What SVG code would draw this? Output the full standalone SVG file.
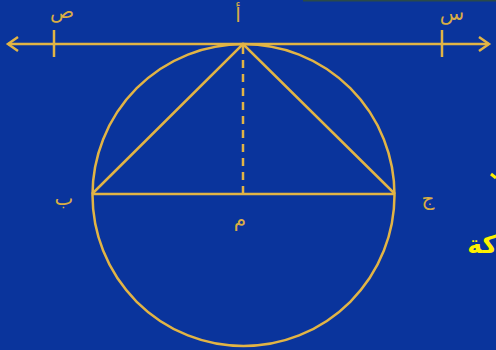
<svg xmlns="http://www.w3.org/2000/svg" width="496" height="350" viewBox="0 0 496 350">
<style>
.ln{stroke:#e2b445;stroke-width:2.5;fill:none}
.lbl{font-family:"DejaVu Sans",sans-serif;font-size:20px;fill:#d9ad45;text-anchor:middle}
.big{font-family:"DejaVu Sans",sans-serif;font-size:25px;font-weight:bold;fill:#fff200}
</style>
<rect width="496" height="350" fill="#0a349c"/>
<line x1="303" y1="0.5" x2="496" y2="0.5" stroke="#2a4a4a" stroke-width="2"/>
<g id="connectors">
<line class="ln" x1="8" y1="44" x2="489" y2="44"/>
<polyline class="ln" points="18,37 8,44 18,51"/>
<polyline class="ln" points="479,37 489,44 479,51"/>
<line class="ln" x1="54" y1="30" x2="54" y2="57"/>
<line class="ln" x1="442" y1="30" x2="442" y2="57"/>
<line class="ln" x1="92" y1="194" x2="395" y2="194"/>
<polyline class="ln" points="92,194 243,44 395,194"/>
<line class="ln" x1="243" y1="46" x2="243" y2="194" stroke-dasharray="8,6"/>
</g>
<g id="circle"><circle class="ln" cx="243.5" cy="195" r="151"/></g>
<g id="label-sad"><text class="lbl" x="62" y="18">ص</text></g>
<g id="label-alef"><text class="lbl" x="238" y="22">أ</text></g>
<g id="label-seen"><text class="lbl" x="452" y="20">س</text></g>
<g id="label-ba"><text class="lbl" x="64" y="205">ب</text></g>
<g id="label-meem"><text class="lbl" x="240" y="226">م</text></g>
<g id="label-jeem"><text class="lbl" x="428" y="205">ج</text></g>
<g id="side-text">
<text class="big" x="497" y="253" text-anchor="end">كة</text>
<line x1="491" y1="174" x2="496" y2="178" stroke="#fff200" stroke-width="3"/>
</g>
</svg>
